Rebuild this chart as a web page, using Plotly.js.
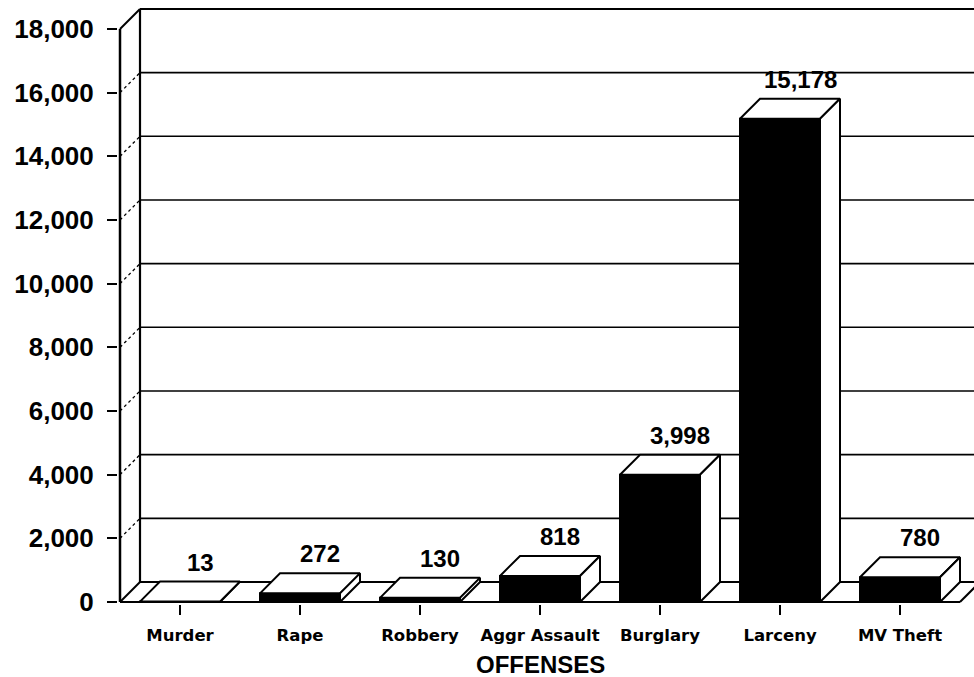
<!DOCTYPE html>
<html>
<head>
<meta charset="utf-8">
<script src="https://cdn.plot.ly/plotly-3.0.1.min.js"></script>
<style>html,body{margin:0;padding:0;background:#fff;}#chart{width:974px;height:677px;}</style>
</head>
<body>
<div id="chart"></div>
<script>
// ---- data ----
const categories = ['Murder', 'Rape', 'Robbery', 'Aggr Assault', 'Burglary', 'Larceny', 'MV Theft'];
const offenses = [13, 272, 130, 818, 3998, 15178, 780];
const yTickVals = [0, 2000, 4000, 6000, 8000, 10000, 12000, 14000, 16000, 18000];
const xTitle = 'OFFENSES';

// ---- layout geometry (pixels -> axis units) ----
const W = 974, H = 677;
const ML = 118, MR = 0, MT = 0, MB = 73;
const plotW = W - ML - MR, plotH = H - MT - MB;
const pxPerCat = 120;               // pixels per category
const yPerPx = 2000 / 63.67;        // value units per pixel
const xMin = -0.5 - 2 / pxPerCat;
const xMax = xMin + plotW / pxPerCat;
const yMin = -2 * yPerPx;
const yMax = yMin + plotH * yPerPx;
const DX = 20 / pxPerCat;           // 3-D depth offset, x
const DY = 20 * yPerPx;             // 3-D depth offset, y
const BW = 80 / pxPerCat;           // bar width
const yTop = yTickVals[yTickVals.length - 1];
const nCat = categories.length;
const xIdx = categories.map((c, i) => i);

const traces = [];
// front faces
traces.push({
  type: 'bar', x: xIdx, y: offenses, width: BW,
  marker: {color: '#000', line: {color: '#000', width: 2}},
  hoverinfo: 'skip', showlegend: false
});
// top and side faces
offenses.forEach((v, i) => {
  const x0 = i - BW / 2, x1 = i + BW / 2;
  traces.push({
    type: 'scatter', mode: 'lines', fill: 'toself', fillcolor: '#fff',
    x: [x0, x1, x1 + DX, x0 + DX, x0],
    y: [v, v, v + DY, v + DY, v],
    line: {color: '#000', width: 2}, hoverinfo: 'skip', showlegend: false
  });
  traces.push({
    type: 'scatter', mode: 'lines', fill: 'toself', fillcolor: '#fff',
    x: [x1, x1 + DX, x1 + DX, x1, x1],
    y: [0, DY, v + DY, v, 0],
    line: {color: '#000', width: 2}, hoverinfo: 'skip', showlegend: false
  });
});

// ---- walls / floor / gridlines ----
const shapes = [];
const L = (x0, y0, x1, y1, w, dash) => shapes.push({
  type: 'line', xref: 'x', yref: 'y', layer: 'below',
  x0: x0, y0: y0, x1: x1, y1: y1,
  line: {color: '#000', width: w, dash: dash || 'solid'}
});
yTickVals.forEach((t, k) => {
  const edge = (k === 0 || k === yTickVals.length - 1);
  L(-0.5 + DX, t + DY, xMax + 1, t + DY, edge ? 2 : 1.6);
  L(-0.5, t, -0.5 + DX, t + DY, edge ? 2 : 1.3, edge ? 'solid' : 'dot');
});
L(-0.5, 0, -0.5, yTop, 2.5);                       // front vertical axis
L(-0.5 + DX, DY, -0.5 + DX, yTop + DY, 2.2);       // back wall left edge
L(-0.5, 0, nCat - 0.5, 0, 2.2);                    // floor front edge
L(nCat - 0.5, 0, nCat - 0.5 + DX, DY, 2);          // floor right edge

// ---- annotations ----
const annotations = offenses.map((v, i) => ({
  x: i + DX, y: v + DY, xref: 'x', yref: 'y',
  text: v.toLocaleString('en-US'), showarrow: false,
  yanchor: 'bottom', xanchor: 'center', yshift: 4,
  font: {family: 'Liberation Sans, Arial, sans-serif', size: 24, weight: 'bold', color: '#000'}
}));
annotations.push({
  xref: 'paper', yref: 'paper', x: (540 - ML) / plotW, y: -(664 - (H - MB)) / plotH,
  text: xTitle, showarrow: false, xanchor: 'center', yanchor: 'middle',
  font: {family: 'Liberation Sans, Arial, sans-serif', size: 24, weight: 'bold', color: '#000'}
});

const layout = {
  width: W, height: H,
  margin: {l: ML, r: MR, t: MT, b: MB, pad: 0},
  paper_bgcolor: '#fff', plot_bgcolor: '#fff',
  showlegend: false, bargap: 0,
  xaxis: {
    range: [xMin, xMax], tickmode: 'array', tickvals: xIdx, ticktext: categories,
    ticks: 'outside', ticklen: 10, tickwidth: 1.6, tickcolor: '#000',
    showgrid: false, zeroline: false, showline: false, ticklabelstandoff: 6,
    tickfont: {family: 'DejaVu Sans, sans-serif', size: 16.5, weight: 'bold', color: '#000'},
    fixedrange: true
  },
  yaxis: {
    range: [yMin, yMax], tickmode: 'array', tickvals: yTickVals,
    ticktext: yTickVals.map(v => v.toLocaleString('en-US')),
    ticks: 'outside', ticklen: 10, tickwidth: 2, tickcolor: '#000',
    showgrid: false, zeroline: false, showline: false, ticklabelstandoff: 8,
    tickfont: {family: 'Liberation Sans, Arial, sans-serif', size: 26, weight: 'bold', color: '#000'},
    fixedrange: true
  },
  shapes: shapes,
  annotations: annotations
};

Plotly.newPlot('chart', traces, layout, {staticPlot: true, displayModeBar: false});
</script>
</body>
</html>
